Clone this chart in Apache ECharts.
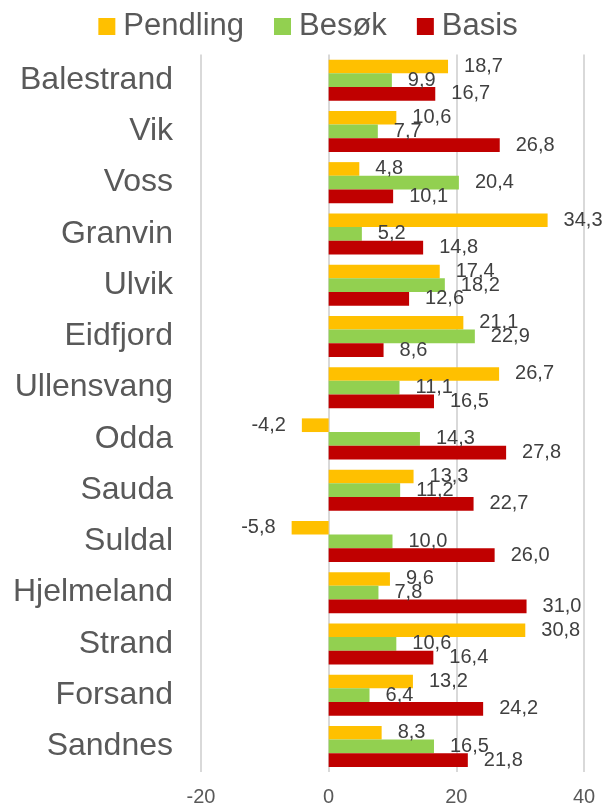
<!DOCTYPE html>
<html>
<head>
<meta charset="utf-8">
<script src="https://cdn.jsdelivr.net/npm/echarts@6/dist/echarts.min.js"></script>
<style>
html,body{margin:0;padding:0;background:#fff;}
#chart{width:616px;height:807px;}
</style>
</head>
<body>
<div id="chart"></div>
<script>
const categories = ["Balestrand","Vik","Voss","Granvin","Ulvik","Eidfjord","Ullensvang","Odda","Sauda","Suldal","Hjelmeland","Strand","Forsand","Sandnes"];
const pendling = [18.7,10.6,4.8,34.3,17.4,21.1,26.7,-4.2,13.3,-5.8,9.6,30.8,13.2,8.3];
const besok = [9.9,7.7,20.4,5.2,18.2,22.9,11.1,14.3,11.2,10.0,7.8,10.6,6.4,16.5];
const basis = [16.7,26.8,10.1,14.8,12.6,8.6,16.5,27.8,22.7,26.0,31.0,16.4,24.2,21.8];
const xTicks = [-20, 0, 20, 40];

const FONT = "'Liberation Sans', Arial, sans-serif";
const chart = echarts.init(document.getElementById('chart'));

function toData(arr) {
  return arr.map(v => v < 0 ? {value: v, label: {position: 'left'}} : v);
}
function mkSeries(name, arr, color) {
  return {
    name: name,
    type: 'bar',
    data: toData(arr),
    barGap: '0%',
    barCategoryGap: '20%',
    itemStyle: {color: color},
    label: {
      show: true,
      position: 'right',
      distance: 16,
      fontFamily: FONT,
      fontSize: 20,
      color: '#404040',
      formatter: p => p.value.toFixed(1).replace('.', ',')
    }
  };
}

chart.setOption({
  animation: false,
  textStyle: {fontFamily: FONT},
  legend: {
    top: 6,
    left: 'center',
    itemWidth: 17,
    itemHeight: 17,
    itemGap: 30,
    icon: 'rect',
    textStyle: {fontFamily: FONT, fontSize: 31, color: '#595959', padding: [0, 0, 0, 3]},
    data: ['Pendling', 'Besøk', 'Basis']
  },
  grid: {left: 201, right: 32, top: 54.5, bottom: 35, containLabel: false},
  xAxis: {
    type: 'value',
    min: xTicks[0],
    max: xTicks[xTicks.length - 1],
    interval: 20,
    axisLine: {show: false},
    axisTick: {show: false},
    axisLabel: {fontFamily: FONT, fontSize: 20, color: '#595959', margin: 15},
    splitLine: {lineStyle: {color: '#d9d9d9', width: 2}}
  },
  yAxis: {
    type: 'category',
    data: categories,
    inverse: true,
    axisLine: {show: false},
    axisTick: {show: false},
    axisLabel: {fontFamily: FONT, fontSize: 32, color: '#595959', margin: 28}
  },
  series: [
    mkSeries('Pendling', pendling, '#FFC000'),
    mkSeries('Besøk', besok, '#92D050'),
    mkSeries('Basis', basis, '#C00000')
  ]
});
</script>
</body>
</html>
